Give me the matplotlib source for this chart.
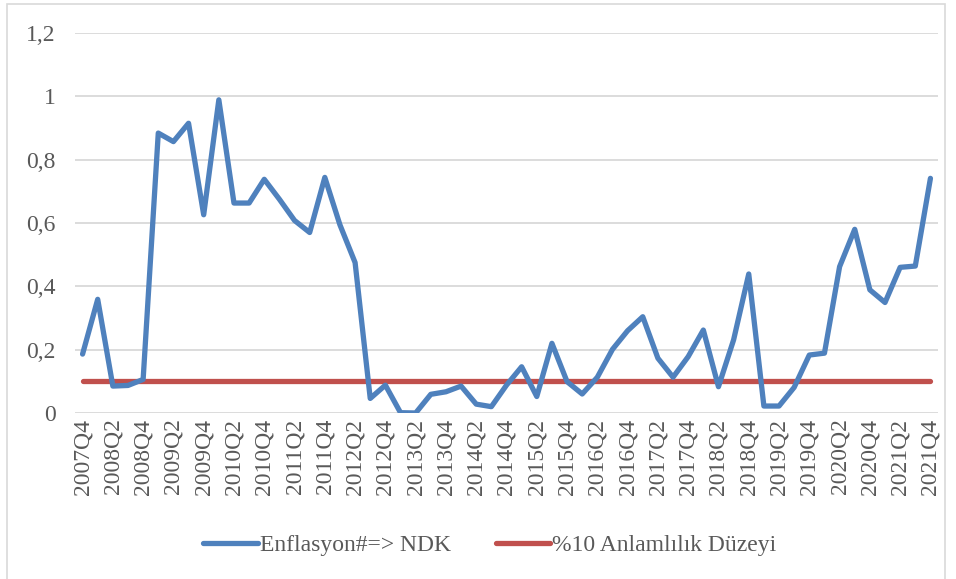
import matplotlib.pyplot as plt
from matplotlib.patches import Rectangle
from matplotlib import font_manager
import numpy as np

# quarters 2007Q4 .. 2021Q4
quarters = ['2007Q4']
for yr in range(2008, 2022):
    for q in range(1, 5):
        quarters.append(f'{yr}Q{q}')

enflasyon_ndk = [0.186, 0.359, 0.085, 0.087, 0.106, 0.884, 0.857, 0.915, 0.626, 0.989,
                 0.663, 0.663, 0.738, 0.675, 0.608, 0.570, 0.744, 0.594, 0.475, 0.046,
                 0.088, 0.001, 0.000, 0.059, 0.067, 0.085, 0.028, 0.020, 0.088, 0.146,
                 0.052, 0.220, 0.099, 0.060, 0.113, 0.201, 0.260, 0.304, 0.173, 0.113,
                 0.178, 0.262, 0.083, 0.231, 0.439, 0.022, 0.022, 0.081, 0.183, 0.189,
                 0.462, 0.580, 0.389, 0.349, 0.460, 0.464, 0.741]
anlamlilik = [0.1] * len(quarters)

y_ticks = [0, 0.2, 0.4, 0.6, 0.8, 1.0, 1.2]
y_labels = ['0', '0,2', '0,4', '0,6', '0,8', '1', '1,2']

# pick a Times-like face if there is one
names = set(f.name for f in font_manager.fontManager.ttflist)
serif = [n for n in ['Times New Roman', 'Liberation Serif', 'Nimbus Roman', 'DejaVu Serif'] if n in names]
plt.rcParams['font.family'] = 'serif'
plt.rcParams['font.serif'] = serif + ['DejaVu Serif']
txt = '#595959'

fig = plt.figure(figsize=(9.56, 5.79), dpi=100)
ax = fig.add_axes([75/956, 1-413/579, (938-75)/956, (413-33)/579])

x = np.arange(len(quarters))
ax.plot(x, enflasyon_ndk, color='#4F81BD', lw=3.8, solid_joinstyle='round',
        solid_capstyle='round', label='Enflasyon#=> NDK', zorder=3)
ax.plot(x, anlamlilik, color='#C0504D', lw=3.8, solid_capstyle='round',
        label='%10 Anlamlılık Düzeyi', zorder=2)

ax.set_xlim(-0.5, len(quarters) - 0.5)
ax.set_ylim(0, 1.2)
ax.set_yticks(y_ticks)
ax.set_yticklabels(y_labels)
ax.set_xticks(x[::2])
ax.set_xticklabels(quarters[::2], rotation=90)
ax.tick_params(axis='both', length=0, labelsize=17, colors=txt)
ax.tick_params(axis='y', pad=14)
ax.tick_params(axis='x', pad=4)
ax.grid(axis='y', color='#D9D9D9', lw=1.3)
ax.set_axisbelow(True)
for s in ax.spines.values():
    s.set_visible(False)

leg = fig.legend(loc='center', bbox_to_anchor=(490/956, 1-545/579), ncol=2,
                 frameon=False, fontsize=17, handlelength=2.3, handletextpad=0.1,
                 columnspacing=1.9)
for t in leg.get_texts():
    t.set_color(txt)

fig.patches.append(Rectangle((7/956, -0.01), (945-7)/956, 1-4/579 + 0.01,
                             transform=fig.transFigure, fill=False,
                             edgecolor='#D9D9D9', lw=1.2))

fig.savefig('out.png', dpi=100)
